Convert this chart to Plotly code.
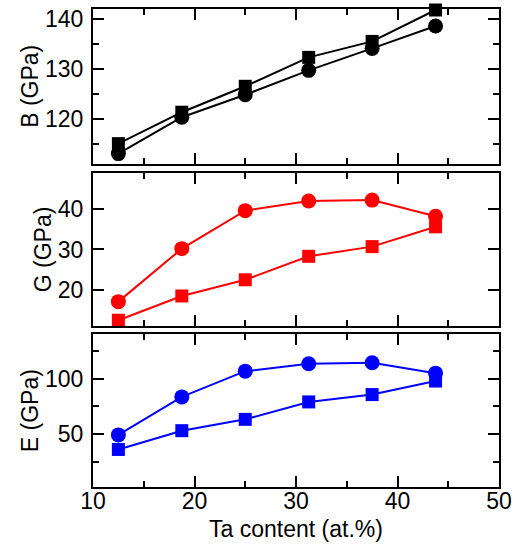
import plotly.graph_objects as go

# Data
ta_content = [12.5, 18.75, 25, 31.25, 37.5, 43.75]
B_circles = [113.0, 120.3, 124.8, 129.7, 134.1, 138.6]
B_squares = [115.0, 121.3, 126.5, 132.3, 135.5, 141.8]
G_circles = [17.1, 30.2, 39.6, 42.0, 42.2, 38.2]
G_squares = [12.5, 18.5, 22.5, 28.3, 30.7, 35.6]
E_circles = [49.4, 83.6, 106.8, 113.4, 114.3, 105.0]
E_squares = [36.3, 53.2, 63.4, 79.1, 85.7, 97.9]

FONT = "Liberation Sans, Arial, Helvetica, sans-serif"
FS = 23

fig = go.Figure()

def add_pair(circ, sq, color, xa, ya):
    fig.add_trace(go.Scatter(x=ta_content, y=circ, mode="lines+markers",
                             line=dict(color=color, width=2),
                             marker=dict(symbol="circle", size=15, color=color),
                             xaxis=xa, yaxis=ya, cliponaxis=False, showlegend=False,
                             name="circles"))
    fig.add_trace(go.Scatter(x=ta_content, y=sq, mode="lines+markers",
                             line=dict(color=color, width=2),
                             marker=dict(symbol="square", size=13, color=color),
                             xaxis=xa, yaxis=ya, cliponaxis=False, showlegend=False,
                             name="squares"))

add_pair(B_circles, B_squares, "#000000", "x", "y")
add_pair(G_circles, G_squares, "#ff0000", "x2", "y2")
add_pair(E_circles, E_squares, "#0000ff", "x3", "y3")

def xax(anchor, labels, title=None):
    d = dict(range=[10, 50], dtick=10, tick0=10, anchor=anchor, domain=[0, 1],
             automargin=False,
             ticks="inside", ticklen=11, tickwidth=2, tickcolor="black",
             minor=dict(dtick=5, ticks="inside", ticklen=6, tickwidth=2, tickcolor="black"),
             showline=True, linewidth=2, linecolor="black", mirror="ticks",
             showgrid=False, zeroline=False, showticklabels=labels,
             ticklabelstandoff=-8,
             tickfont=dict(family=FONT, size=FS, color="black"))
    if title:
        d["title"] = dict(text=title, font=dict(family=FONT, size=FS, color="black"), standoff=8)
    return d

def yax(anchor, domain, rng, dtick, tick0, minor, title):
    d = dict(range=rng, dtick=dtick, tick0=tick0, anchor=anchor, domain=domain,
             automargin=False,
             ticks="inside", ticklen=11, tickwidth=2, tickcolor="black",
             showline=True, linewidth=2, linecolor="black", mirror="ticks",
             showgrid=False, zeroline=False, ticklabelstandoff=3,
             tickfont=dict(family=FONT, size=FS, color="black"),
             title=dict(text=title, font=dict(family=FONT, size=FS, color="black"), standoff=0))
    if minor:
        d["minor"] = dict(dtick=minor, ticks="inside", ticklen=6, tickwidth=2, tickcolor="black")
    return d

fig.update_layout(
    width=525, height=546,
    margin=dict(l=93, r=26, t=9, b=59, autoexpand=False),
    paper_bgcolor="white", plot_bgcolor="white",
    xaxis=xax("y", False),
    xaxis2=xax("y2", False),
    xaxis3=xax("y3", True, "Ta content (at.%)"),
    yaxis=yax("x", [0.6766, 1.0], [111, 142], 10, 0, 5, "B (GPa)"),
    yaxis2=yax("x2", [0.3362, 0.6577], [11, 49], 10, 0, None, "G (GPa)"),
    yaxis3=yax("x3", [0.0, 0.3195], [2.5, 140], 50, 0, 25, "E (GPa)"),
)

fig.write_html("out.html", config={"displayModeBar": False},
               post_script="document.body.style.margin='0px';document.body.style.overflow='hidden';")
